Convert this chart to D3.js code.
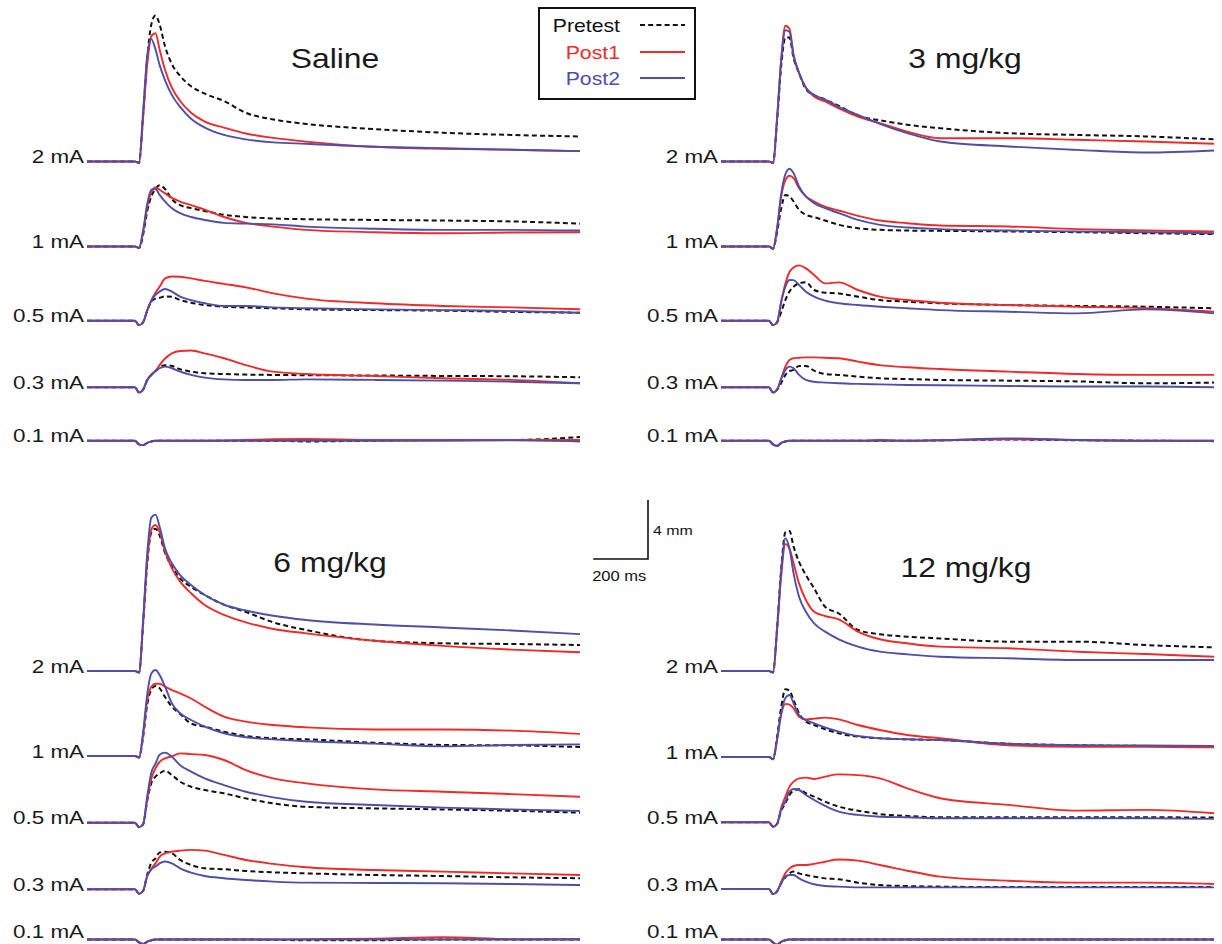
<!DOCTYPE html>
<html><head><meta charset="utf-8">
<script src="https://cdn.jsdelivr.net/npm/d3@7"></script>
<style>body{margin:0;background:#fff}svg{display:block}</style>
</head><body><svg id="c" width="1222" height="944"></svg>
<script>
// ---------------- DATA (amplitude in mm above baseline) ----------------
const timeMs = [0,175,190,205,220,235,250,265,285,310,340,380,430,500,580,680,800,1050,1300,1550,1800];
const currentLabels = ["2 mA","1 mA","0.5 mA","0.3 mA","0.1 mA"];
const panelTitles = ["Saline","3 mg/kg","6 mg/kg","12 mg/kg"];
const seriesNames = ["Pretest","Post1","Post2"];
const scaleBarMs = 200;
const scaleBarMm = 4;

const salinePretest = [
 [0,0,-0.1,3.2,7.0,9.3,9.9,9.3,7.8,6.6,5.8,5.1,4.6,4.1,3.3,2.85,2.55,2.2,1.95,1.8,1.7],
 [0,0,-0.1,0.8,2.4,3.4,3.9,4.15,3.9,3.2,2.8,2.6,2.4,2.15,2.0,1.9,1.85,1.8,1.76,1.7,1.55],
 [0,0,-0.3,-0.1,0.7,1.3,1.5,1.55,1.65,1.63,1.4,1.22,1.06,0.95,0.9,0.84,0.77,0.72,0.68,0.6,0.54],
 [0,0,-0.35,-0.15,0.5,0.85,1.1,1.35,1.5,1.45,1.22,1.06,0.95,0.9,0.86,0.84,0.82,0.8,0.77,0.75,0.68],
 [0,0,-0.25,-0.3,-0.15,-0.05,0,0,0,0,0,0,0,0,0,0,-0.05,0,0.05,0.05,0.25]
];
const salinePost1 = [
 [0,0,-0.1,3.0,6.6,8.5,8.7,7.6,6.2,5.0,4.1,3.3,2.7,2.3,1.9,1.6,1.35,1.0,0.86,0.8,0.7],
 [0,0,-0.1,1.0,2.7,3.7,4.0,3.85,3.6,3.3,3.05,2.8,2.5,2.0,1.6,1.35,1.13,0.97,0.9,0.95,0.97],
 [0,0,-0.3,-0.1,0.7,1.4,1.9,2.3,2.87,3.0,2.98,2.87,2.7,2.5,2.26,1.85,1.5,1.18,1.0,0.9,0.77],
 [0,0,-0.35,-0.15,0.5,0.85,1.1,1.5,1.95,2.3,2.46,2.49,2.3,1.97,1.5,1.06,0.9,0.77,0.61,0.5,0.27],
 [0,0,-0.25,-0.3,-0.15,-0.05,0,0,0,0,0,0,0,0.02,0.05,0.1,0.12,0.05,0.05,0.05,0.05]
];
const salinePost2 = [
 [0,0,-0.1,3.4,7.2,8.3,7.6,6.55,5.5,4.5,3.7,2.9,2.3,1.8,1.5,1.3,1.2,1.0,0.9,0.8,0.7],
 [0,0,-0.1,1.1,2.9,3.85,3.9,3.5,3.05,2.6,2.26,2.0,1.8,1.6,1.55,1.5,1.35,1.2,1.13,1.13,1.08],
 [0,0,-0.3,-0.1,0.7,1.35,1.75,1.97,2.15,1.97,1.63,1.4,1.18,1.0,1.0,0.9,0.84,0.77,0.72,0.66,0.54],
 [0,0,-0.35,-0.15,0.5,0.85,1.1,1.29,1.4,1.29,1.06,0.84,0.66,0.54,0.5,0.5,0.54,0.5,0.45,0.38,0.27],
 [0,0,-0.25,-0.3,-0.15,-0.05,0,0,0,0,0,0,0,0,0,0,0,0,0,0.02,-0.05]
];

const mg3Pretest = [
 [0,0,-0.1,2.8,6.5,8.4,8.4,7.0,6.0,4.9,4.5,4.2,3.77,3.1,2.8,2.49,2.26,1.92,1.8,1.7,1.5],
 [0,0,-0.15,1.0,2.6,3.5,3.4,3.05,2.49,2.15,1.99,1.76,1.47,1.24,1.13,1.08,1.06,1.02,0.97,0.9,0.84],
 [0,0,-0.3,-0.1,0.6,1.4,1.97,2.3,2.53,2.6,2.08,1.9,1.85,1.63,1.4,1.29,1.18,1.06,1.0,0.95,0.84],
 [0,0,-0.35,-0.15,0.3,0.84,1.1,1.18,1.45,1.45,1.13,0.9,0.84,0.72,0.61,0.56,0.5,0.45,0.4,0.27,0.32],
 [0,0,-0.25,-0.35,-0.15,-0.05,0,0,0,0,0,0,0,0,0,0,0.02,0.08,0.03,0,-0.03]
];
const mg3Post1 = [
 [0,0,-0.1,3.0,7.0,9.2,9.0,7.2,6.0,5.0,4.4,4.07,3.6,3.05,2.6,2.03,1.58,1.58,1.47,1.36,1.2],
 [0,0,-0.15,1.2,3.4,4.5,4.8,4.63,3.95,3.39,3.05,2.7,2.44,2.08,1.76,1.58,1.42,1.36,1.18,1.08,1.02],
 [0,0,-0.3,-0.1,1.3,2.53,3.3,3.6,3.75,3.55,3.1,2.53,2.6,2.08,1.63,1.4,1.22,1.06,0.95,0.84,0.61],
 [0,0,-0.35,-0.15,0.6,1.4,1.85,1.97,2.0,2.03,2.03,2.0,1.97,1.74,1.5,1.36,1.24,1.06,0.9,0.84,0.84],
 [0,0,-0.25,-0.35,-0.15,-0.05,0,0,0,0,0,0,0,0,0.05,0,0.03,0.1,0.05,0,0]
];
const mg3Post2 = [
 [0,0,-0.1,3.0,6.9,8.9,8.8,7.2,6.0,5.0,4.5,4.2,3.7,3.16,2.55,1.92,1.36,1.02,0.79,0.61,0.75],
 [0,0,-0.15,1.3,3.6,4.9,5.27,4.97,4.07,3.39,2.94,2.6,2.26,1.8,1.47,1.29,1.18,1.08,1.02,0.97,0.9],
 [0,0,-0.3,-0.1,1.3,2.3,2.76,2.75,2.42,1.97,1.63,1.36,1.18,1.06,0.95,0.84,0.72,0.61,0.5,0.77,0.5],
 [0,0,-0.35,-0.15,0.6,1.18,1.4,1.29,0.84,0.5,0.38,0.32,0.27,0.23,0.2,0.16,0.14,0.09,0.05,0.05,0],
 [0,0,-0.25,-0.35,-0.15,-0.05,0,0,0,0,0,0,0,0,0,0,0.03,0.15,0.05,0,0]
];

const mg6Pretest = [
 [0,0,-0.1,3.2,7.3,9.4,9.65,9.2,8.0,7.07,6.28,5.7,5.15,4.5,4.0,3.3,2.78,2.05,1.88,1.83,1.76],
 [0,0,-0.1,1.3,3.5,4.5,4.75,4.6,4.0,3.34,2.85,2.2,1.99,1.65,1.36,1.2,1.13,0.9,0.75,0.72,0.61],
 [0,0,-0.3,-0.1,1.5,2.7,3.12,3.34,3.53,3.23,2.78,2.44,2.21,1.99,1.65,1.31,1.08,0.97,0.9,0.81,0.68],
 [0,0,-0.3,-0.1,1.0,1.8,2.1,2.49,2.55,2.44,1.99,1.65,1.42,1.36,1.24,1.15,1.08,0.97,0.9,0.81,0.75],
 [0,0,-0.2,-0.3,-0.15,-0.05,0,0,0,0,0,0,0,0,0,-0.02,-0.05,-0.05,0,0,0]
];
const mg6Post1 = [
 [0,0,-0.1,3.3,7.5,9.6,9.9,9.45,8.1,6.96,6.06,5.27,4.47,3.8,3.3,2.85,2.55,2.05,1.7,1.45,1.27],
 [0,0,-0.1,1.5,3.8,4.7,4.9,4.9,4.7,4.47,4.25,3.9,3.34,2.67,2.33,2.1,1.94,1.8,1.8,1.72,1.5],
 [0,0,-0.3,-0.1,1.6,3.0,3.68,4.13,4.36,4.5,4.7,4.65,4.59,4.25,3.57,3.0,2.67,2.26,2.1,1.94,1.76],
 [0,0,-0.3,-0.1,0.9,1.4,1.76,2.2,2.44,2.55,2.62,2.67,2.62,2.33,1.99,1.72,1.49,1.31,1.2,1.08,0.97],
 [0,0,-0.2,-0.3,-0.15,-0.05,0,0,0,0,0,0,0,0,0,0,0.02,0.05,0.15,0.02,0]
];
const mg6Post2 = [
 [0,0,-0.1,3.5,8.0,10.4,10.6,9.8,8.3,7.3,6.5,5.83,5.15,4.5,4.1,3.75,3.46,3.15,2.95,2.75,2.5],
 [0,0,-0.1,1.6,4.2,5.6,5.83,5.5,4.7,3.57,2.9,2.44,1.99,1.54,1.27,1.13,1.0,0.84,0.65,0.75,0.79],
 [0,0,-0.3,-0.1,1.8,3.4,4.0,4.6,4.75,4.47,3.9,3.46,3.0,2.55,2.1,1.72,1.42,1.2,1.02,0.9,0.79],
 [0,0,-0.3,-0.1,0.9,1.35,1.54,1.76,1.88,1.76,1.42,1.13,0.9,0.75,0.63,0.52,0.45,0.43,0.41,0.36,0.29],
 [0,0,-0.2,-0.3,-0.15,-0.05,0,0,0,0,0,0,0,0,0,0,0,0,0,0,0.02]
];

const mg12Pretest = [
 [0,0,-0.1,3.0,7.0,9.4,9.5,8.43,7.4,6.5,5.6,4.36,3.9,2.78,2.49,2.33,2.21,1.99,1.99,1.76,1.6],
 [0,0,-0.15,1.4,3.4,4.6,4.5,3.86,2.96,2.4,2.17,1.88,1.6,1.38,1.27,1.2,1.15,0.9,0.8,0.75,0.72],
 [0,0,-0.3,-0.1,0.8,1.29,1.85,2.15,2.24,1.97,1.74,1.4,1.06,0.79,0.56,0.43,0.34,0.34,0.34,0.34,0.32],
 [0,0,-0.35,-0.15,0.4,0.79,1.06,1.18,1.06,0.95,0.84,0.72,0.66,0.43,0.27,0.2,0.16,0.13,0.13,0.13,0.13],
 [0,0,-0.2,-0.35,-0.15,-0.05,0,0,0,0,0,0,0,0,0,0,0,0,0,0,0]
];
const mg12Post1 = [
 [0,0,-0.1,2.8,6.5,8.6,8.3,7.3,5.94,4.81,4.02,3.73,3.5,2.67,2.15,1.88,1.65,1.54,1.31,1.15,0.97],
 [0,0,-0.15,1.2,2.9,3.6,3.55,3.3,2.73,2.55,2.6,2.67,2.55,2.17,1.83,1.49,1.27,0.8,0.7,0.7,0.65],
 [0,0,-0.3,-0.1,1.0,1.74,2.42,2.76,2.98,3.03,2.94,3.1,3.25,3.2,2.98,2.3,1.63,1.18,0.79,0.84,0.61],
 [0,0,-0.35,-0.15,0.5,1.06,1.4,1.56,1.63,1.63,1.7,1.85,2.0,1.92,1.63,1.24,0.84,0.56,0.43,0.43,0.34],
 [0,0,-0.2,-0.35,-0.15,-0.05,0,0,0,0,0,0,0,0,0,0,0,0,0,0,0]
];
const mg12Post2 = [
 [0,0,-0.1,2.9,6.8,9.0,8.3,6.62,5.04,4.02,3.23,2.67,2.15,1.65,1.31,1.13,0.97,0.86,0.75,0.75,0.75],
 [0,0,-0.15,1.2,3.0,4.0,4.2,3.64,2.85,2.5,2.28,2.0,1.72,1.42,1.27,1.2,1.15,0.9,0.8,0.78,0.75],
 [0,0,-0.3,-0.1,0.9,1.4,2.08,2.26,2.19,1.85,1.51,1.11,0.72,0.5,0.38,0.34,0.27,0.27,0.27,0.27,0.23],
 [0,0,-0.35,-0.15,0.4,0.84,0.95,0.95,0.72,0.5,0.32,0.2,0.16,0.11,0.11,0.11,0.11,0.11,0.11,0.11,0.11],
 [0,0,-0.2,-0.35,-0.15,-0.05,0,0,0,0,0,0,0,0,0,0,0,0,0,0,0]
];

// ---------------- LAYOUT / STYLE ----------------
const panelSeries = [
  [salinePretest, salinePost1, salinePost2],
  [mg3Pretest, mg3Post1, mg3Post2],
  [mg6Pretest, mg6Post1, mg6Post2],
  [mg12Pretest, mg12Post1, mg12Post2]
];
const panelLayout = [
  {x0:87,  x1:580,  baselines:[161.5,246.5,320.7,387.3,440.7], tx:335, ty:68},
  {x0:721, x1:1214, baselines:[161.5,246.5,320.7,387.3,440.7], tx:965, ty:68},
  {x0:87,  x1:580,  baselines:[671,756,822.7,889.3,939.5],     tx:330, ty:572},
  {x0:721, x1:1214, baselines:[671,757,822.3,889,939.5],       tx:966, ty:577}
];
const PX_PER_MM = 14.75;
const FONT = "'Liberation Sans', Arial, Helvetica, sans-serif";
const STRETCH = 1.18;
const seriesStyle = [
  {color:"#111111", dash:"5,3.2", width:2},
  {color:"#ee2b2b", dash:null, width:1.9},
  {color:"#4f4fa6", dash:null, width:1.9}
];
const drawOrder = [0,1,2];

const svg = d3.select("#c");

function addText(g, str, x, y, size, color, anchor) {
  return g.append("text")
    .attr("transform", `translate(${x},${y}) scale(${STRETCH},1)`)
    .attr("text-anchor", anchor)
    .attr("font-family", FONT)
    .attr("font-size", size)
    .attr("fill", color)
    .text(str);
}

let refX = null, refY = null;
panelLayout.forEach((p, pi) => {
  const x = d3.scaleLinear().domain([0, d3.max(timeMs)]).range([p.x0, p.x1]);
  if (!refX) refX = x;
  const g = svg.append("g");
  addText(g, panelTitles[pi], p.tx, p.ty, 27, "#1a1a1a", "middle");
  currentLabels.forEach((lab, ri) => {
    const b = p.baselines[ri];
    const y = d3.scaleLinear().domain([0, scaleBarMm]).range([b, b - scaleBarMm * PX_PER_MM]);
    if (!refY) refY = y;
    addText(g, lab, p.x0 - 3, Math.min(b + 1.5, 937.5), 19, "#1a1a1a", "end");
    const line = d3.line()
      .x((d, i) => x(timeMs[i]))
      .y(d => y(d))
      .curve(d3.curveMonotoneX);
    drawOrder.forEach(si => {
      const st = seriesStyle[si];
      g.append("path")
        .attr("d", line(panelSeries[pi][si][ri]))
        .attr("fill", "none")
        .attr("stroke", st.color)
        .attr("stroke-width", st.width)
        .attr("stroke-linejoin", "round")
        .attr("stroke-dasharray", st.dash);
    });
  });
});

// ---------------- LEGEND ----------------
const lg = svg.append("g");
lg.append("rect").attr("x", 539).attr("y", 8).attr("width", 156).attr("height", 91)
  .attr("fill", "#fff").attr("stroke", "#111").attr("stroke-width", 2);
const legendY = [25, 52, 78];
seriesNames.forEach((n, i) => {
  const st = seriesStyle[i];
  addText(lg, n, 620, legendY[i] + 7, 18, i === 0 ? "#111" : st.color, "end");
  lg.append("line").attr("x1", 640).attr("x2", 685).attr("y1", legendY[i]).attr("y2", legendY[i])
    .attr("stroke", st.color).attr("stroke-width", st.width).attr("stroke-dasharray", st.dash);
});

// ---------------- SCALE BAR ----------------
const sb = svg.append("g");
const cornerX = 648, cornerY = 559;
const barW = refX(scaleBarMs) - refX(0);
const barH = refY(0) - refY(scaleBarMm);
sb.append("path")
  .attr("d", `M${cornerX - barW},${cornerY}H${cornerX}V${cornerY - barH}`)
  .attr("fill", "none").attr("stroke", "#111").attr("stroke-width", 1.6);
addText(sb, `${scaleBarMm} mm`, cornerX + 5, cornerY - barH + 35, 13.5, "#111", "start");
addText(sb, `${scaleBarMs} ms`, cornerX - barW + 26, cornerY + 22, 14, "#111", "middle");
</script>
</body></html>
